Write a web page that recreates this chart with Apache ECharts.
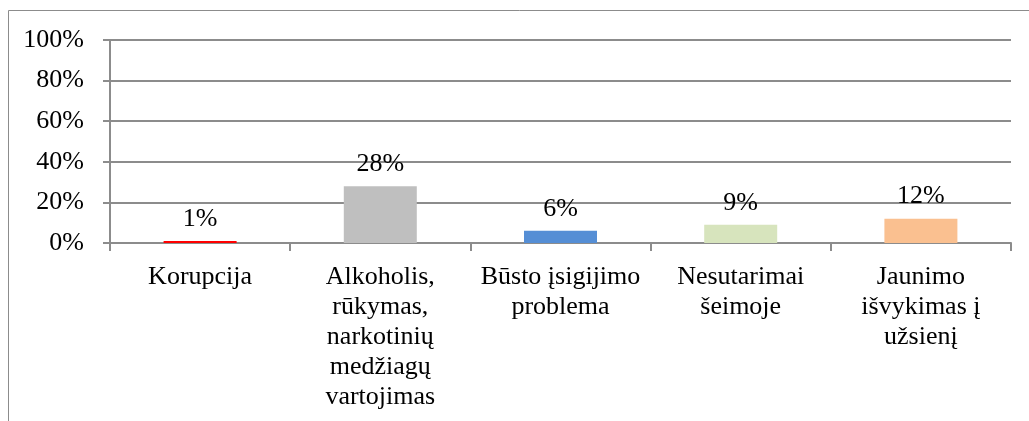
<!DOCTYPE html>
<html>
<head>
<meta charset="utf-8">
<script src="https://cdn.jsdelivr.net/npm/echarts@6/dist/echarts.min.js"></script>
<style>
  html, body { margin: 0; padding: 0; background: #fff; }
  #chart { width: 1029px; height: 421px; }
</style>
</head>
<body>
<div id="chart"></div>
<script>
// duomenys
const categories = [
  'Korupcija',
  'Alkoholis, rūkymas, narkotinių medžiagų vartojimas',
  'Būsto įsigijimo problema',
  'Nesutarimai šeimoje',
  'Jaunimo išvykimas į užsienį'
];
const values = [1, 28, 6, 9, 12];
const barColors = ['#ff0000', '#bfbfbf', '#558ed5', '#d7e4bd', '#fac090'];

const font = '"Liberation Serif", "Times New Roman", serif';
const fontSize = 26;
const axisGray = '#8c8c8c';

// word wrap without leading spaces
const ctx = document.createElement('canvas').getContext('2d');
ctx.font = fontSize + 'px ' + font;
function wrap(text, maxW) {
  const words = text.split(' ');
  const lines = [];
  let cur = '';
  words.forEach(w => {
    const t = cur ? cur + ' ' + w : w;
    if (cur && ctx.measureText(t).width > maxW) {
      lines.push(cur);
      cur = w;
    } else {
      cur = t;
    }
  });
  if (cur) lines.push(cur);
  return lines.join('\n');
}

const chart = echarts.init(document.getElementById('chart'));

chart.setOption({
  animation: false,
  backgroundColor: '#fff',
  graphic: [
    {
      type: 'rect',
      shape: { x: 8.5, y: 10.5, width: 1200, height: 600 },
      style: { fill: 'none', stroke: axisGray, lineWidth: 1 },
      silent: true
    }
  ],
  grid: { left: 110, right: 18, top: 40, bottom: 178 },
  xAxis: {
    type: 'category',
    data: categories,
    axisLine: { lineStyle: { color: axisGray, width: 2 } },
    axisTick: { show: true, length: 8, lineStyle: { color: axisGray, width: 2 } },
    axisLabel: {
      interval: 0,
      margin: 19,
      color: '#000',
      fontFamily: font,
      fontSize: fontSize,
      lineHeight: 30,
      align: 'center',
      formatter: v => wrap(v, 172)
    }
  },
  yAxis: {
    type: 'value',
    min: 0,
    max: 100,
    interval: 20,
    axisLine: { show: true, lineStyle: { color: axisGray, width: 2 } },
    axisTick: { show: true, length: 7, lineStyle: { color: axisGray, width: 2 } },
    splitLine: { lineStyle: { color: axisGray, width: 2 } },
    axisLabel: {
      margin: 26,
      color: '#000',
      fontFamily: font,
      fontSize: fontSize,
      formatter: '{value}%'
    }
  },
  series: [
    {
      type: 'bar',
      barWidth: 73,
      data: values.map((v, i) => ({ value: v, itemStyle: { color: barColors[i] } })),
      label: {
        show: true,
        position: 'top',
        distance: 9,
        color: '#000',
        fontFamily: font,
        fontSize: fontSize,
        formatter: '{c}%'
      }
    }
  ]
});
</script>
</body>
</html>
